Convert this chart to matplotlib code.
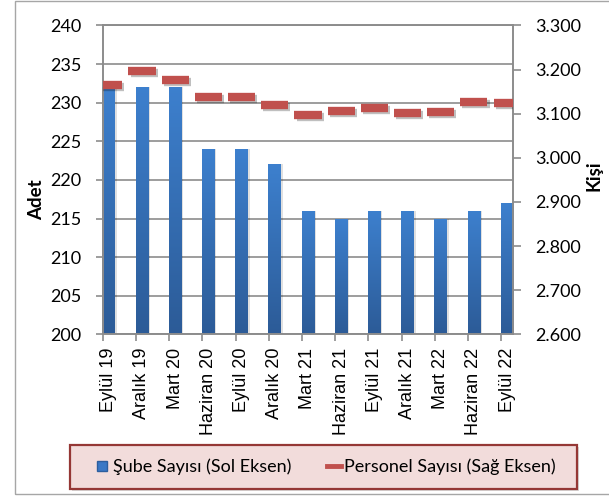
# Şube ve personel sayıları - çift eksenli grafik

import numpy as np
import matplotlib.pyplot as plt
from matplotlib.lines import Line2D
from matplotlib.patches import Rectangle
from matplotlib.colors import LinearSegmentedColormap
from matplotlib import patheffects as pe

donemler = ['Eylül 19', 'Aralık 19', 'Mart 20', 'Haziran 20', 'Eylül 20', 'Aralık 20',
            'Mart 21', 'Haziran 21', 'Eylül 21', 'Aralık 21', 'Mart 22', 'Haziran 22', 'Eylül 22']
sube = [232, 232, 232, 224, 224, 222, 216, 215, 216, 216, 215, 216, 217]
personel = [3166, 3196, 3176, 3137, 3137, 3120, 3098, 3107, 3112, 3101, 3103, 3126, 3125]
sol_ticks = [200, 205, 210, 215, 220, 225, 230, 235, 240]
sag_ticks = [2600, 2700, 2800, 2900, 3000, 3100, 3200, 3300]
seri_adlari = ['Şube Sayısı (Sol Eksen)', 'Personel Sayısı (Sağ Eksen)']

GRI = '#8C8C8C'
MAVI = '#3A78C6'
KIRMIZI = '#C0504D'

plt.rcParams['font.family'] = ['Lato', 'DejaVu Sans']

fig = plt.figure(figsize=(6.09, 4.97), dpi=100)
ax = fig.add_axes([0.1686, 0.3272, 0.6732, 0.6217])
x = np.arange(len(donemler))
taban = sol_ticks[0]
yukseklik = np.array(sube) - taban

# bar shadow + bars with vertical gradient
ax.bar(x + 0.05, yukseklik, bottom=taban, width=0.38, color='k', alpha=0.12, zorder=1.5)
bars = ax.bar(x, yukseklik, bottom=taban, width=0.38, color=MAVI, zorder=2)
cmap = LinearSegmentedColormap.from_list('mavi', ['#2C5B97', '#3D80CE'])
grad = np.linspace(0, 1, 256).reshape(-1, 1)
for b in bars:
    x0, y0 = b.get_x(), b.get_y()
    im = ax.imshow(grad, cmap=cmap, aspect='auto', origin='lower', zorder=2.1,
                   extent=(x0, x0 + b.get_width(), y0, y0 + b.get_height()))
    im.set_clip_path(b)

ax.set_xlim(-0.184, 12.166)
ax.set_ylim(sol_ticks[0], sol_ticks[-1])
ax.set_yticks(sol_ticks)
ax.set_axisbelow(True)
ax.yaxis.grid(True, color=GRI, lw=1.2)

ax.set_xticks(x)
ax.set_xticklabels(donemler, rotation=90, fontfamily='Liberation Sans', fontsize=13)
ax.set_xticks(x - 0.18, minor=True)
ax.tick_params(axis='x', which='major', length=0, pad=9.5)
ax.tick_params(axis='x', which='minor', length=5, width=1.2, color=GRI)
ax.tick_params(axis='y', length=5, width=1.2, color=GRI, pad=10.5, labelsize=13)

# personel on right axis
ax2 = ax.twinx()
ax2.plot(x, personel, ls='none', marker='_', ms=19.5, mew=6, color=KIRMIZI, zorder=3,
         path_effects=[pe.SimpleLineShadow(offset=(1.5, -1.5), shadow_color='k', alpha=0.25),
                       pe.Normal()])
ax2.set_ylim(sag_ticks[0], sag_ticks[-1])
ax2.set_yticks(sag_ticks)
ax2.set_yticklabels([f'{v:,}'.replace(',', '.') for v in sag_ticks])
ax2.tick_params(axis='y', length=6, width=1.2, color=GRI, pad=10, labelsize=13)

for a in (ax, ax2):
    for s in a.spines.values():
        s.set_color(GRI)
        s.set_linewidth(1.2)

fig.text(37 / 609, 1 - 200 / 497, 'Adet', rotation=90, ha='center', va='center',
         fontsize=13.5, fontweight='bold')
fig.text(594 / 609, 1 - 176 / 497, 'Kişi', rotation=90, ha='center', va='center',
         fontsize=13.5, fontweight='bold')

# legend box
fig.add_artist(Rectangle((72 / 609, 1 - 491 / 497), 507 / 609, 44 / 497,
                         transform=fig.transFigure, facecolor='k', alpha=0.15,
                         edgecolor='none', zorder=0))
fig.add_artist(Rectangle((70 / 609, 1 - 489 / 497), 507 / 609, 44 / 497,
                         transform=fig.transFigure, facecolor='#F2DCDB',
                         edgecolor='#953735', lw=1.6, zorder=0.5))
handles = [Line2D([], [], ls='none', marker='s', ms=7.2, color=MAVI, mec='#2D5E9E'),
           Line2D([], [], color=KIRMIZI, lw=3.5)]
fig.legend(handles, seri_adlari, loc='center', bbox_to_anchor=(0.5349, 0.0604), ncol=2,
           frameon=False, fontsize=13, handlelength=0.75, handletextpad=0.2,
           columnspacing=2.0)

# outer chart frame
fig.add_artist(Rectangle((15 / 609, 1 - 494 / 497), 1.0, 493 / 497,
                         transform=fig.transFigure, facecolor='none',
                         edgecolor='#A6A6A6', lw=1.0, zorder=-1))

fig.savefig('out.png', dpi=100)
